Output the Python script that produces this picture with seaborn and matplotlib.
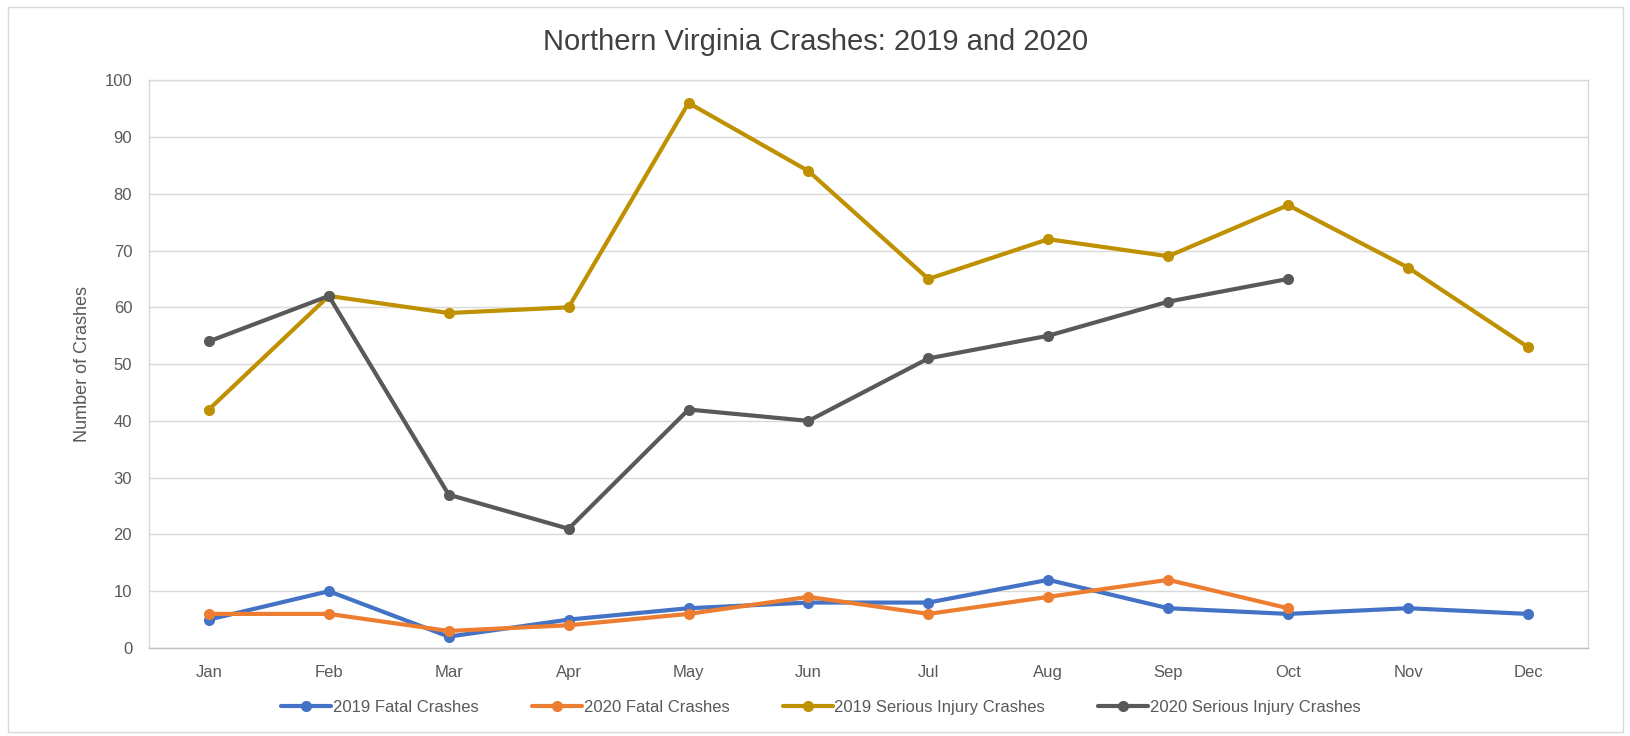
import numpy as np
import pandas as pd
import matplotlib
matplotlib.use("Agg")
import matplotlib.pyplot as plt
import seaborn as sns

# -----------------------------
# DATA
# -----------------------------
months = ["Jan", "Feb", "Mar", "Apr", "May", "Jun",
          "Jul", "Aug", "Sep", "Oct", "Nov", "Dec"]
fatal_2019 = [5, 10, 2, 5, 7, 8, 8, 12, 7, 6, 7, 6]
fatal_2020 = [6, 6, 3, 4, 6, 9, 6, 9, 12, 7]
serious_2019 = [42, 62, 59, 60, 96, 84, 65, 72, 69, 78, 67, 53]
serious_2020 = [54, 62, 27, 21, 42, 40, 51, 55, 61, 65]

series_names = ["2019 Fatal Crashes", "2020 Fatal Crashes",
                "2019 Serious Injury Crashes", "2020 Serious Injury Crashes"]
series_values = [fatal_2019, fatal_2020, serious_2019, serious_2020]
colors = ["#4472C4", "#ED7D31", "#BF9000", "#595959"]

rows = []
for name, vals in zip(series_names, series_values):
    for i, v in enumerate(vals):
        rows.append({"month": i, "crashes": v, "series": name})
df = pd.DataFrame(rows)

# -----------------------------
# PLOT
# -----------------------------
sns.set_style("white")
plt.rcParams["font.family"] = ["Liberation Sans Narrow", "Liberation Sans", "DejaVu Sans"]

fig = plt.figure(figsize=(16.31, 7.36), dpi=100)
ax = fig.add_axes([0.0913, 0.1196, 0.8823, 0.7714])

sns.lineplot(data=df, x="month", y="crashes", hue="series",
             hue_order=series_names, palette=colors, marker="o",
             markersize=8, markeredgewidth=0, linewidth=3, ax=ax)

ax.set_xlim(-0.5, 11.5)
ax.set_ylim(0, 100)
ax.set_xticks(range(12))
ax.set_xticklabels(months)
ax.set_yticks(range(0, 101, 10))
ax.tick_params(axis="both", length=0, labelsize=12, colors="#595959", pad=12)
ax.grid(axis="y", color="#D9D9D9", linewidth=1)
ax.set_axisbelow(True)
for s in ax.spines.values():
    s.set_color("#D9D9D9")
    s.set_linewidth(1)
ax.spines["bottom"].set_color("#BFBFBF")

ax.set_xlabel("")
ax.set_ylabel("Number of Crashes", fontsize=13, color="#595959", labelpad=10)

fig.text(0.5, 0.943, "Northern Virginia Crashes: 2019 and 2020",
         ha="center", va="center", fontsize=21, color="#404040")

ax.legend(loc="upper center", bbox_to_anchor=(0.467, -0.065), ncol=4,
          frameon=False, fontsize=12, handlelength=3, columnspacing=3.2,
          labelcolor="#595959", handletextpad=0.1)

# outer chart border
fig.patches.append(plt.Rectangle((0.005, 0.005), 0.99, 0.985, transform=fig.transFigure,
                                 fill=False, edgecolor="#D9D9D9", linewidth=1))

fig.savefig("out.png", dpi=100)
